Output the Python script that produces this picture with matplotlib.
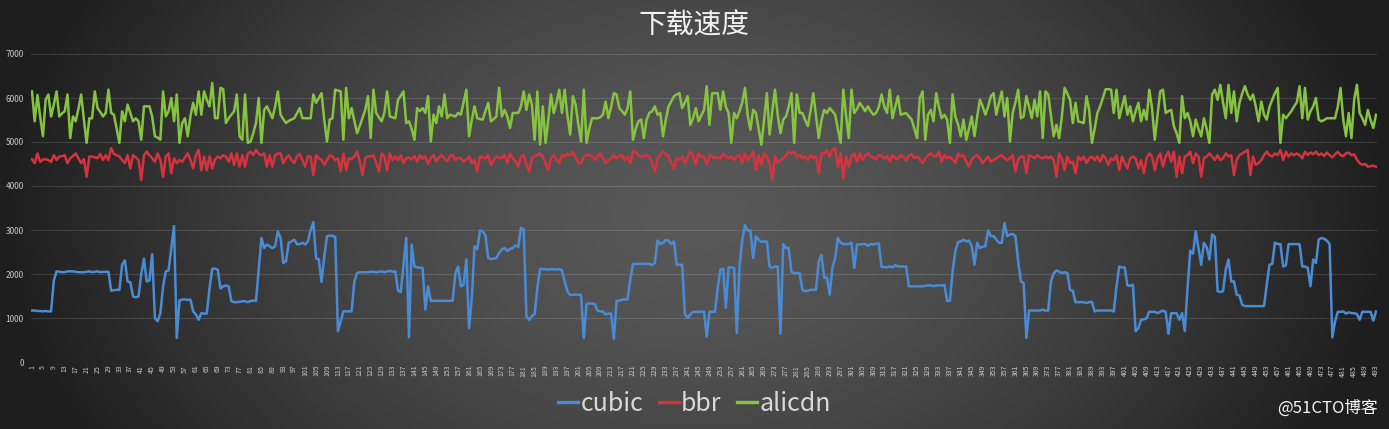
import numpy as np
import matplotlib
matplotlib.use("Agg")
import matplotlib.pyplot as plt

plt.rcParams['font.family'] = ['Noto Sans CJK SC', 'DejaVu Sans']

title = '下载速度'
series_names = ['cubic', 'bbr', 'alicdn']

cubic = [
    1170, 1170, 1160, 1160, 1150, 1160, 1150, 1150, 1850, 2060,
    2050, 2040, 2040, 2060, 2060, 2060, 2050, 2040, 2040, 2040,
    2050, 2060, 2040, 2050, 2060, 2040, 2050, 2050, 2050, 1620,
    1630, 1640, 1640, 2210, 2310, 1830, 1810, 1490, 1470, 1490,
    1990, 2350, 1830, 1850, 2450, 1000, 925, 1110, 1720, 2060,
    2080, 2590, 3090, 545, 1400, 1420, 1420, 1410, 1420, 1150,
    1080, 960, 1110, 1100, 1100, 1680, 2120, 2120, 2100, 1670,
    1720, 1740, 1720, 1380, 1360, 1360, 1370, 1380, 1380, 1360,
    1390, 1390, 1390, 2100, 2820, 2590, 2670, 2630, 2590, 2630,
    2970, 2820, 2250, 2290, 2710, 2740, 2780, 2680, 2680, 2710,
    2670, 2740, 3000, 3180, 2360, 2330, 1820, 2400, 2860, 2870,
    2870, 2840, 700, 925, 1150, 1150, 1150, 1150, 1830, 2020,
    2040, 2040, 2040, 2040, 2050, 2050, 2040, 2050, 2060, 2040,
    2060, 2070, 2050, 2060, 1620, 1590, 2210, 2820, 560, 2670,
    2170, 2150, 2140, 2140, 1190, 1720, 1390, 1390, 1390, 1390,
    1390, 1390, 1390, 1390, 1390, 2020, 2170, 1720, 1760, 2330,
    770, 1450, 2630, 2560, 2990, 2970, 2880, 2360, 2340, 2350,
    2360, 2480, 2560, 2590, 2520, 2570, 2590, 2650, 2610, 3050,
    3010, 1040, 960, 1040, 1090, 1680, 2120, 2110, 2110, 2100,
    2110, 2110, 2100, 2110, 2080, 1830, 1610, 1520, 1530, 1530,
    1530, 1520, 545, 1320, 1330, 1330, 1320, 1170, 1150, 1150,
    1080, 1100, 1100, 530, 1390, 1390, 1420, 1420, 1420, 1870,
    2230, 2230, 2230, 2230, 2230, 2230, 2230, 2200, 2250, 2760,
    2680, 2710, 2770, 2760, 2680, 2740, 2210, 2210, 2210, 1090,
    1000, 1080, 1140, 1140, 1140, 1140, 1150, 580, 1140, 1140,
    1140, 1680, 2100, 2120, 1230, 2150, 2150, 2140, 660, 2170,
    2780, 3110, 2990, 2990, 2360, 2860, 2780, 2730, 2740, 2740,
    2170, 2140, 2170, 2170, 640, 2680, 2590, 2590, 2050, 2020,
    2020, 2020, 1640, 1610, 1620, 1640, 1640, 1640, 2290, 2430,
    1910, 1920, 1530, 2140, 2360, 2820, 2710, 2680, 2680, 2680,
    2710, 2140, 2670, 2670, 2680, 2680, 2640, 2680, 2670, 2690,
    2690, 2160, 2160, 2150, 2170, 2150, 2200, 2170, 2170, 2170,
    2170, 1720, 1720, 1720, 1720, 1720, 1720, 1730, 1740, 1740,
    1720, 1740, 1740, 1740, 1750, 1390, 1390, 2060, 2520, 2730,
    2740, 2780, 2740, 2760, 2630, 2210, 2710, 2590, 2620, 2630,
    2990, 2860, 2860, 2780, 2710, 2710, 3160, 2860, 2900, 2910,
    2860, 2290, 1830, 1800, 545, 1170, 1170, 1170, 1170, 1170,
    1190, 1170, 1170, 1830, 2020, 2080, 2050, 2020, 2040, 2020,
    1640, 1620, 1360, 1360, 1360, 1360, 1340, 1360, 1370, 1150,
    1170, 1170, 1170, 1170, 1170, 1170, 1150, 1720, 2170, 2150,
    2150, 1740, 1730, 1760, 700, 770, 960, 970, 990, 1140,
    1140, 1140, 1110, 1140, 1170, 1140, 640, 1110, 1110, 1110,
    960, 1110, 700, 1680, 2530, 2460, 2970, 2590, 2210, 2710,
    2610, 2330, 2900, 2840, 1610, 1590, 1610, 2100, 2330, 1830,
    1830, 1530, 1510, 1300, 1270, 1270, 1270, 1270, 1270, 1270,
    1270, 1270, 1760, 2210, 2230, 2710, 2680, 2680, 2170, 2200,
    2680, 2680, 2680, 2680, 2680, 2170, 2170, 2140, 1720, 2330,
    2250, 2780, 2820, 2800, 2760, 2680, 560, 925, 1140, 1140,
    1150, 1100, 1130, 1110, 1110, 1090, 960, 1140, 1140, 1140,
    1140, 940, 1150,
]

bbr = [
    4610, 4520, 4740, 4550, 4600, 4610, 4590, 4550, 4700, 4590,
    4670, 4680, 4700, 4520, 4630, 4680, 4740, 4630, 4520, 4610,
    4210, 4670, 4670, 4650, 4630, 4730, 4590, 4700, 4590, 4860,
    4730, 4700, 4670, 4590, 4520, 4700, 4400, 4700, 4650, 4590,
    4140, 4700, 4780, 4700, 4630, 4550, 4740, 4590, 4210, 4670,
    4740, 4290, 4630, 4520, 4590, 4550, 4650, 4740, 4590, 4400,
    4700, 4820, 4360, 4670, 4360, 4670, 4400, 4600, 4670, 4630,
    4700, 4670, 4550, 4740, 4480, 4740, 4440, 4700, 4440, 4730,
    4780, 4700, 4820, 4730, 4700, 4740, 4440, 4700, 4440, 4700,
    4740, 4740, 4520, 4630, 4700, 4590, 4520, 4670, 4730, 4590,
    4440, 4670, 4670, 4250, 4700, 4630, 4590, 4480, 4590, 4700,
    4670, 4590, 4630, 4330, 4740, 4360, 4630, 4610, 4670, 4780,
    4550, 4250, 4630, 4680, 4670, 4700, 4520, 4330, 4740, 4670,
    4360, 4740, 4590, 4670, 4590, 4700, 4520, 4630, 4650, 4600,
    4680, 4550, 4700, 4620, 4670, 4500, 4640, 4700, 4560, 4650,
    4700, 4620, 4560, 4680, 4700, 4590, 4640,
    4630, 4550, 4600, 4670, 4520, 4590, 4330, 4670, 4650, 4630,
    4700, 4480, 4590, 4670, 4650, 4630, 4700, 4520, 4740, 4630,
    4560, 4440, 4670, 4700, 4480, 4330, 4630, 4680, 4700, 4740,
    4670, 4520, 4360, 4630, 4700, 4600, 4520, 4700, 4670, 4740,
    4700, 4780, 4650, 4520, 4520, 4670, 4700, 4700, 4680, 4590,
    4670, 4740, 4630, 4520, 4590, 4630, 4700, 4630, 4680, 4700,
    4590, 4670, 4520, 4780, 4780, 4700, 4670, 4670, 4700, 4670,
    4520, 4330, 4630, 4700, 4780, 4720, 4670, 4520, 4400, 4630,
    4590, 4670, 4520, 4650, 4780, 4700, 4480, 4740, 4670, 4670,
    4480, 4700, 4670, 4630, 4650, 4630, 4740, 4670, 4630, 4670,
    4590, 4670, 4700, 4520, 4740, 4590, 4670, 4780, 4360, 4700,
    4480, 4740, 4670, 4520, 4140, 4670, 4520, 4590, 4630, 4700,
    4780, 4740, 4780, 4670, 4700, 4630, 4670, 4590, 4700, 4630,
    4670, 4290, 4740, 4740, 4820, 4670, 4820, 4860, 4440, 4740,
    4170, 4670, 4440, 4670, 4740, 4550, 4740, 4590, 4700, 4740,
    4670, 4650, 4600, 4700, 4690, 4620, 4680, 4550, 4700, 4640,
    4600, 4700, 4660, 4580, 4690, 4720, 4630, 4670, 4600,
    4520, 4630, 4700, 4740, 4680, 4670, 4780, 4550, 4700, 4630,
    4670, 4600, 4520, 4740, 4670, 4700, 4550, 4440, 4600, 4670,
    4700, 4630, 4520, 4600, 4670, 4550, 4590, 4630, 4670, 4700,
    4630, 4590, 4630, 4700, 4330, 4600, 4670, 4670, 4290, 4700,
    4670, 4630, 4700, 4650, 4630, 4670, 4630, 4670, 4590, 4210,
    4740, 4630, 4360, 4670, 4520, 4550, 4290, 4670, 4590, 4670,
    4520, 4630, 4670, 4590, 4670, 4550, 4700, 4630, 4480, 4630,
    4590, 4700, 4360, 4670, 4520, 4400, 4630, 4670, 4630, 4400,
    4590, 4290, 4630, 4740, 4670, 4360, 4630, 4740, 4440, 4670,
    4780, 4550, 4780, 4210, 4670, 4290, 4670, 4700, 4780, 4520,
    4740, 4670, 4210, 4630, 4670, 4740, 4670, 4590, 4700, 4590,
    4630, 4740, 4670, 4700, 4250, 4590, 4700, 4740, 4780, 4820,
    4250, 4670, 4480, 4520, 4590, 4700, 4780, 4700, 4670, 4740,
    4700, 4820, 4590, 4780, 4670, 4740, 4700, 4740, 4700, 4630,
    4780, 4700, 4760, 4720, 4780, 4700, 4740, 4680, 4760, 4700,
    4650, 4720, 4780, 4700, 4680, 4740, 4760, 4700, 4720, 4600,
    4520, 4480, 4500, 4440, 4450, 4460, 4440,
]

alicdn = [
    6150, 5470, 6070, 5580, 5130, 5960, 6080, 5580, 5850, 6150,
    5580, 5650, 5700, 6080, 5090, 5580, 5470, 5750, 6080, 5510,
    4980, 5540, 5540, 6150, 5770, 5680, 5580, 5660, 6190, 5660,
    5620, 5300, 4980, 5700, 5470, 5850, 5660, 5470, 5540, 5470,
    5050, 5810, 5810, 5810, 5580, 5130, 5100, 5050, 6150, 5580,
    5700, 6000, 5470, 6080, 4980, 5430, 5540, 5130, 5580, 5890,
    5620, 6150, 5620, 6150, 5960, 5810, 6340, 5540, 5540, 6230,
    6200, 5430, 5540, 5620, 5700, 6080, 5130, 5050, 6080, 4980,
    5010, 5200, 5430, 6000, 4980, 5730, 5810, 5680, 5540, 5800,
    6150, 5620, 5520, 5430, 5480, 5510, 5540, 5650, 5770, 5540,
    5540, 5540, 5540, 6080, 5890, 6000, 6110, 5500, 5010, 5510,
    5540, 6190, 6170, 6150, 5050, 6230, 5540, 5770, 5480, 5200,
    5360, 5550, 5730, 6040, 5090, 6190, 5660, 5560, 5470, 5660,
    6150, 5580, 5560, 5540, 5960, 6050, 6150, 5430, 5470, 5300,
    5050, 5770, 5700, 5770, 5660, 6040, 5010, 5620, 5430, 5810,
    5580, 6080, 5540, 5620, 5600, 5580, 5660,
    5620, 5900, 6190, 5130, 5500, 5810, 5540, 5520, 5510, 5700,
    5890, 5470, 5520, 5580, 6230, 5580, 5730, 5580, 5320, 5660,
    5660, 5660, 5810, 6150, 5730, 6080, 5850, 5050, 6150, 4940,
    5810, 4980, 5500, 6080, 5660, 5890, 6190, 5660, 6190, 5600,
    5170, 6040, 5850, 5400, 5010, 6190, 4980, 5300, 5540, 5540,
    5540, 5560, 5620, 5920, 5540, 5800, 6110, 6080, 5770, 5700,
    5620, 5770, 6150, 5050, 5300, 5470, 5510, 5090, 5510, 5660,
    5700, 5810, 5620, 5660, 5130, 5500, 5810, 5920, 6040, 6080,
    6110, 5770, 5900, 6040, 5390, 5540, 5770, 5470, 5600, 5730,
    6270, 5390, 6110, 6110, 6110, 5730, 6150, 5800, 5660, 4980,
    5660, 5540, 5700, 5900, 6230, 5600, 5280, 5730, 5660, 5300,
    4940, 5500, 6110, 5170, 5700, 6190, 5600, 5200, 5510, 5580,
    5800, 6110, 4980, 6080, 5660, 5660, 5500, 5360, 5700, 6110,
    5600, 5090, 5500, 5730, 5660, 5770, 5700, 5620, 5300, 4980,
    6190, 5600, 5090, 6190, 5660, 5750, 5890, 5800, 5700, 5810,
    5700, 5620, 5660, 5800, 6080, 5800, 5660, 6190, 5540, 5800,
    6040, 5620, 5640, 5660, 5580, 5510, 5300, 5090, 6000,
    6150, 5050, 5620, 5730, 5470, 6110, 5800, 5540, 5620, 5510,
    4980, 6080, 5580, 5400, 5130, 5510, 5050, 5300, 5580, 5130,
    5580, 5960, 5810, 5620, 5800, 6040, 6110, 5620, 5900, 6150,
    5580, 6000, 5010, 5660, 5900, 6190, 5540, 5580, 6040, 5800,
    5540, 5960, 5580, 6150, 5090, 6150, 6080, 5600, 5130, 5390,
    5090, 5580, 6230, 6100, 5960, 5430, 5890, 5470, 5450, 5430,
    6040, 5730, 4980, 5300, 5660, 5810, 6000, 6200, 6200, 6190,
    5660, 6190, 5540, 5800, 6040, 5620, 5810, 5470, 5700, 5890,
    5470, 5730, 5510, 6190, 5770, 5050, 5600, 6150, 6190, 5660,
    5700, 5730, 5360, 5200, 4980, 6040, 5540, 5660, 5470, 5130,
    5510, 5300, 5130, 5540, 5300, 4980, 6080, 6190, 5960, 6300,
    5900, 5540, 6300, 5660, 6150, 5470, 5890, 6100, 6270, 6080,
    5960, 6080, 5800, 5470, 5920, 5620, 5510, 5800, 5960, 6110,
    6230, 4980, 5620, 5540, 5620, 5700, 5810, 5900, 6270, 5540,
    6230, 5510, 5700, 5810, 6000, 5510, 5470, 5500, 5540, 5540,
    5540, 5540, 5800, 6230, 5510, 5130, 5660, 5090, 5960, 6300,
    5660, 5540, 5390, 5730, 5500, 5320, 5620,
]

colors = ['#4a8bd6', '#d6333f', '#86c341']
y_ticks = [0, 1000, 2000, 3000, 4000, 5000, 6000, 7000]

n = len(cubic)
assert len(bbr) == n and len(alicdn) == n, (len(cubic), len(bbr), len(alicdn))
x = np.arange(1, n + 1)

W, H = 1389, 429
fig = plt.figure(figsize=(W / 100, H / 100), dpi=100)

# radial background, light in the middle and dark at the sides
bg = fig.add_axes([0, 0, 1, 1], zorder=-10)
gx, gy = np.meshgrid(np.linspace(-1, 1, 400), np.linspace(-1, 1, 140))
r = np.sqrt(gx ** 2 + (gy * 0.45) ** 2)
shade = np.clip(88 - 58 * r ** 1.6, 30, 90) / 255.0
bg.imshow(np.dstack([shade, shade, shade]), extent=[0, 1, 0, 1], aspect='auto',
          interpolation='bilinear')
bg.axis('off')

ax = fig.add_axes([30.6 / W, 1 - 362 / H, 1346.8 / W, 308 / H])
ax.patch.set_alpha(0)
for name, vals, c in zip(series_names, [cubic, bbr, alicdn], colors):
    ax.plot(x, vals, color=c, lw=1.8, solid_joinstyle='round', label=name)

ax.set_xlim(0.5, n + 0.5)
ax.set_ylim(0, 7000)
ax.set_yticks(y_ticks)
ax.set_yticklabels([str(v) for v in y_ticks])
ax.set_xticks(x[::4])
ax.set_xticklabels([str(v) for v in x[::4]], rotation=90)
ax.tick_params(axis='both', length=0, colors='#c8c8c8', labelsize=5)
ax.tick_params(axis='y', pad=5, labelsize=6)
ax.tick_params(axis='x', pad=2)
ax.grid(axis='y', color='white', alpha=0.13, lw=0.8)
ax.set_axisbelow(True)
for s in ax.spines.values():
    s.set_visible(False)

fig.text(0.5, 1 - 26 / H, title, ha='center', va='center', fontsize=20,
         color='#f2f2f2', fontweight='medium')

leg = fig.legend(loc='center', bbox_to_anchor=(0.5, 1 - 404 / H), ncol=3,
                 frameon=False, fontsize=18, handlelength=0.8,
                 handletextpad=0.1, columnspacing=0.6)
for t in leg.get_texts():
    t.set_color('#d9d9d9')
for l in leg.get_lines():
    l.set_linewidth(2.4)

fig.text(1378 / W, 1 - 408 / H, '@51CTO博客', ha='right', va='center',
         fontsize=12, color='#f5f5f5')

fig.savefig('out.png', dpi=100)
